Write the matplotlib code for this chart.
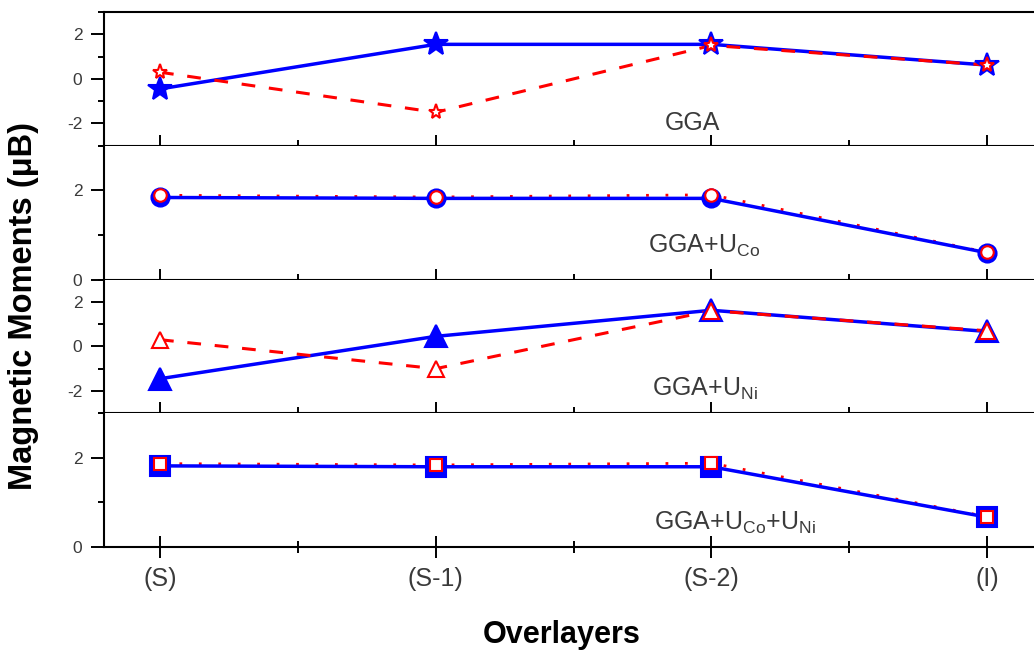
import matplotlib
matplotlib.use('Agg')
import matplotlib.pyplot as plt
from matplotlib.ticker import MultipleLocator

plt.rcParams['font.family'] = ['Liberation Sans', 'DejaVu Sans']
plt.rcParams['mathtext.fontset'] = 'custom'
plt.rcParams['mathtext.rm'] = 'Liberation Sans'
plt.rcParams['axes.unicode_minus'] = False

# data
layers = ['(S)', '(S-1)', '(S-2)', '(I)']
gga_blue = [-0.45, 1.55, 1.55, 0.62]
gga_red = [0.3, -1.5, 1.5, 0.62]
ucd_blue = [1.84, 1.82, 1.82, 0.6]
ucd_red = [1.89, 1.85, 1.9, 0.61]
uni_blue = [-1.45, 0.45, 1.62, 0.67]
uni_red = [0.3, -1.0, 1.6, 0.7]
uboth_blue = [1.82, 1.8, 1.8, 0.67]
uboth_red = [1.87, 1.84, 1.88, 0.68]
panel_labels = ['GGA', r'GGA+U$_{\mathrm{Co}}$', r'GGA+U$_{\mathrm{Ni}}$',
                r'GGA+U$_{\mathrm{Co}}$+U$_{\mathrm{Ni}}$']
ylims = [(-3, 3), (0, 3), (-3, 3), (0, 3)]

blue = '#0000ff'
red = '#ff0000'
txt = '#3a3a3a'

fig = plt.figure(figsize=(10.34, 6.57), dpi=100)
gs = fig.add_gridspec(4, 1, left=0.1006, right=1.0, top=0.9817, bottom=0.1674, hspace=0)
axes = [fig.add_subplot(gs[i]) for i in range(4)]

x = list(range(len(layers)))
panels = [
    (gga_blue, gga_red, '*', 18, 11, 'dash'),
    (ucd_blue, ucd_red, 'o', 13, 9, 'dot'),
    (uni_blue, uni_red, '^', 16, 12, 'dash'),
    (uboth_blue, uboth_red, 's', 14, 9, 'dot'),
]
label_pos = [(1.83, -2.31), (1.77, 0.6), (1.786, -2.22), (1.79, 0.38)]

for i, ax in enumerate(axes):
    b, r, mk, bs, rs, style = panels[i]
    ax.plot(x, b, color=blue, lw=2.5, zorder=3)
    if style == 'dash':
        ax.plot(x, r, color=red, lw=2.2, dashes=(4.5, 4.5), zorder=4)
    else:
        ax.plot(x, r, color=red, lw=2.0, dashes=(1, 6), zorder=2)
    ax.plot(x, b, ls='none', marker=mk, ms=bs, mfc=blue, mec=blue, mew=1.5, zorder=5)
    ax.plot(x, r, ls='none', marker=mk, ms=rs, mfc='white', mec=red, mew=1.5, zorder=6)

    ax.set_xlim(-0.203, 3.17)
    ax.set_ylim(*ylims[i])
    ax.yaxis.set_major_locator(MultipleLocator(2))
    ax.yaxis.set_minor_locator(MultipleLocator(1))
    ax.set_xticks(x)
    ax.set_xticks([0.5, 1.5, 2.5], minor=True)
    ax.tick_params(axis='x', which='major', direction='inout', length=16.5, width=1.4, pad=6,
                   labelsize=18, labelcolor=txt)
    ax.tick_params(axis='x', which='minor', direction='inout', length=8.5, width=1.4)
    ax.tick_params(axis='y', which='major', direction='out', length=9.5, width=1.4, pad=6,
                   labelsize=12.5, labelcolor=txt)
    ax.tick_params(axis='y', which='minor', direction='out', length=4.5, width=1.4)
    if i < 3:
        ax.tick_params(axis='x', labelbottom=False)
    else:
        ax.set_xticklabels(layers)
    for s in ['left', 'bottom', 'top']:
        ax.spines[s].set_linewidth(1.5)
    ax.spines['right'].set_visible(False)
    if i > 0:
        ax.spines['top'].set_visible(False)
    lx, ly = label_pos[i]
    ax.text(lx, ly, panel_labels[i], fontsize=18, color=txt, ha='left', va='baseline')

fig.text(0.023, 0.535, 'Magnetic Moments (μB)', rotation=90, fontsize=23.5, fontweight='bold',
         ha='center', va='center')
fig.text(0.543, 0.0213, 'Overlayers', fontsize=22, fontweight='bold', ha='center', va='baseline')

fig.savefig('out.png', dpi=100)
